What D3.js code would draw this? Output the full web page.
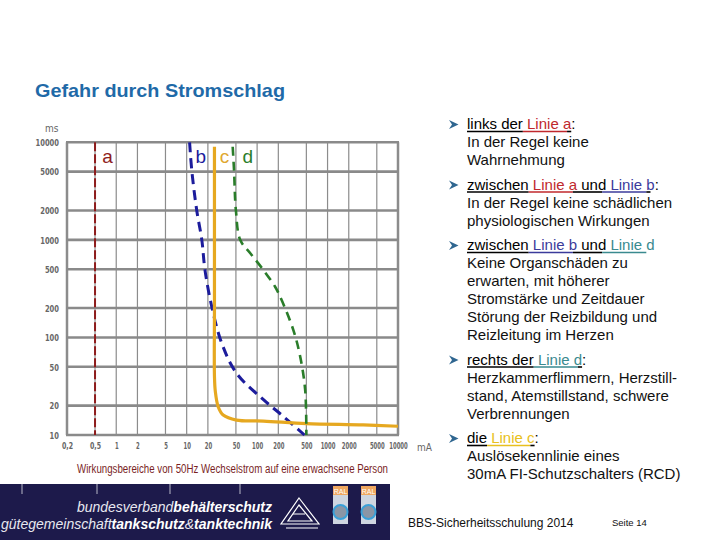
<!DOCTYPE html>
<html>
<head>
<meta charset="utf-8">
<title>Gefahr durch Stromschlag</title>
<script src="https://cdn.jsdelivr.net/npm/d3@7"></script>
<style>
  body { margin: 0; background: #fff; }
  svg { display: block; font-family: "Liberation Sans", Arial, sans-serif; }
</style>
</head>
<body>
<svg id="chart" width="720" height="540"></svg>
<script>
// ---- data ----
var xTicks = [0.2, 0.5, 1, 2, 5, 10, 20, 50, 100, 200, 500, 1000, 2000, 5000, 10000];
var xTickLabels = ["0,2", "0,5", "1", "2", "5", "10", "20", "50", "100", "200", "500", "1000", "2000", "5000", "10000"];
var yTicks = [10, 20, 50, 100, 200, 500, 1000, 2000, 5000, 10000];

// [mA, ms]
var lineA = [[0.5, 10000], [0.5, 10]];
var lineB = [[11, 10000], [11.8, 5200], [13.9, 2000], [16.4, 1000], [18.2, 490], [22.7, 207],
             [31.5, 87], [51, 43], [123, 23], [236, 15.5], [470, 10]];
var lineC = [[24.8, 9000], [24.8, 2000], [24.8, 200], [24.8, 40], [25.5, 28], [28, 19.5], [33, 16],
             [51, 14.2], [123, 13.9], [500, 13.1], [3200, 12.7], [10000, 12.3]];
var lineD = [[45, 9000], [47, 5200], [50, 2000], [57.5, 1000], [80, 730], [123, 490], [180, 331],
             [212, 262], [327, 119], [408, 64], [481, 29], [500, 10]];

var lineLabels = ["a", "b", "c", "d"];
var lineLabelX = [0.52, 11, 24.3, 51];

var bullets = [
  [["links der ", "k"], ["Linie a", "a"], [":", "k"]],
  [["zwischen ", "k"], ["Linie a", "a"], [" und ", "k"], ["Linie b", "b"], [":", "k"]],
  [["zwischen ", "k"], ["Linie b", "b"], [" und ", "k"], ["Linie d", "d"]],
  [["rechts der ", "k"], ["Linie d", "d"], [":", "k"]],
  [["die ", "k"], ["Linie c", "c"], [":", "k"]]
];
var bulletLines = [
  ["In der Regel keine", "Wahrnehmung"],
  ["In der Regel keine schädlichen", "physiologischen Wirkungen"],
  ["Keine Organschäden zu", "erwarten, mit höherer", "Stromstärke und Zeitdauer", "Störung der Reizbildung und", "Reizleitung im Herzen"],
  ["Herzkammerflimmern, Herzstill-", "stand, Atemstillstand, schwere", "Verbrennungen"],
  ["Auslösekennlinie eines", "30mA FI-Schutzschalters (RCD)"]
];

var lineColor = { a: "#8e1c1c", b: "#1c1c9c", c: "#e6a820", d: "#2a7d2a", k: "#000" };
var textColor = { a: "#c0282d", b: "#3b3b9b", c: "#e8c020", d: "#3a8a8f", k: "#000" };

var svg = d3.select("#chart");

// title
svg.append("text").attr("x", 35).attr("y", 97)
  .attr("font-size", 19).attr("font-weight", "bold").attr("fill", "#1f6aa8")
  .attr("textLength", 250).attr("lengthAdjust", "spacingAndGlyphs")
  .text("Gefahr durch Stromschlag");

// ---- chart ----
var x = d3.scaleLog().domain([0.2, 10000]).range([67, 398]);
var y = d3.scaleLog().domain([10, 10000]).range([435, 142.3]);

var grid = svg.append("g");
grid.selectAll(".vl").data(xTicks).enter().append("line")
  .attr("x1", function(d) { return x(d); }).attr("x2", function(d) { return x(d); })
  .attr("y1", y(10000)).attr("y2", y(10))
  .attr("stroke", "#8c8c8c")
  .attr("stroke-width", function(d, i) { return (i == 0 || i == xTicks.length - 1) ? 2.5 : 1.2; });
grid.selectAll(".hl").data(yTicks).enter().append("line")
  .attr("x1", x(0.2) - 1).attr("x2", x(10000) + 1)
  .attr("y1", function(d) { return y(d); }).attr("y2", function(d) { return y(d); })
  .attr("stroke", "#8a8a8a").attr("stroke-width", 2.6);

// axes
var xAxis = d3.axisBottom(x).tickValues(xTicks)
  .tickFormat(function(d, i) { return xTickLabels[i]; }).tickSize(0).tickPadding(8);
var gx = svg.append("g").attr("transform", "translate(0," + y(10) + ")").call(xAxis);
var yAxis = d3.axisLeft(y).tickValues(yTicks).tickFormat(d3.format("d")).tickSize(0).tickPadding(8);
var gy = svg.append("g").attr("transform", "translate(" + x(0.2) + ",0)").call(yAxis);
[gx, gy].forEach(function(g, gi) {
  var cw = gi == 0 ? 3.7 : 4.7;
  g.select(".domain").remove();
  g.selectAll("text").attr("font-family", "'DejaVu Sans Condensed', 'Liberation Sans Narrow', sans-serif")
    .attr("font-size", gi == 0 ? 9 : 9.5).attr("font-weight", "bold").attr("fill", "#666")
    .attr("textLength", function() { return this.textContent.length * cw; })
    .attr("lengthAdjust", "spacingAndGlyphs");
});
gy.selectAll("text").attr("dy", "0.35em");

svg.append("text").attr("x", 417).attr("y", 451).attr("font-size", 10).attr("fill", "#666")
  .attr("font-family", "'DejaVu Sans Condensed', sans-serif").text("mA");
svg.append("text").attr("x", 45).attr("y", 132).attr("font-size", 10).attr("fill", "#666")
  .attr("font-family", "'DejaVu Sans Condensed', sans-serif").text("ms");
svg.append("text").attr("x", 77).attr("y", 472.5).attr("font-size", 12).attr("fill", "#7a1f1f")
  .attr("textLength", 311).attr("lengthAdjust", "spacingAndGlyphs")
  .text("Wirkungsbereiche von 50Hz Wechselstrom auf eine erwachsene Person");

// curves
var line = d3.line().x(function(d) { return x(d[0]); }).y(function(d) { return y(d[1]); })
  .curve(d3.curveCatmullRom.alpha(0.5));
var curves = [
  { data: lineA, c: lineColor.a, w: 2, dash: "9,3" },
  { data: lineB, c: lineColor.b, w: 3, dash: "10,6" },
  { data: lineC, c: lineColor.c, w: 3.2, dash: null },
  { data: lineD, c: lineColor.d, w: 2.6, dash: "9,6" }
];
curves.forEach(function(cv) {
  svg.append("path").datum(cv.data).attr("d", line)
    .attr("fill", "none").attr("stroke", cv.c).attr("stroke-width", cv.w)
    .attr("stroke-dasharray", cv.dash);
});
svg.selectAll(".lbl").data(lineLabels).enter().append("text")
  .attr("x", function(d, i) { return x(lineLabelX[i]) + 6; })
  .attr("y", 163).attr("font-size", 19)
  .attr("fill", function(d) { return d == "c" ? "#e0a830" : lineColor[d]; })
  .text(function(d) { return d; });

// ---- bullet text ----
var tx = 467, ty = 129, lh = 18, gap = 23.5;
var tg = svg.append("g").attr("font-size", 15).attr("fill", "#111");
bullets.forEach(function(head, bi) {
  // arrow bullet
  tg.append("path")
    .attr("d", "M449," + (ty - 9) + " L458.5," + (ty - 4.5) + " L449," + ty + " L452," + (ty - 4.5) + " Z")
    .attr("fill", "#2f6690");
  var t = tg.append("text").attr("x", tx).attr("y", ty);
  var cx = tx;
  head.forEach(function(seg) {
    var s = t.append("tspan").attr("fill", textColor[seg[1]]).text(seg[0]);
    var w = s.node().getComputedTextLength();
    tg.append("line").attr("x1", cx).attr("x2", cx + w).attr("y1", ty + 2.5).attr("y2", ty + 2.5)
      .attr("stroke", seg[1] == "k" ? "#000" : textColor[seg[1]]).attr("stroke-width", 1.6);
    cx += w;
  });
  bulletLines[bi].forEach(function(l) {
    ty += lh;
    tg.append("text").attr("x", tx).attr("y", ty).text(l);
  });
  ty += gap + 1;
});

// ---- footer ----
var ft = svg.append("g");
ft.append("rect").attr("x", 0).attr("y", 484).attr("width", 390).attr("height", 56).attr("fill", "#1d1a4b");
[22, 97, 170, 240].forEach(function(v) {
  ft.append("line").attr("x1", v).attr("x2", v).attr("y1", 484).attr("y2", 494)
    .attr("stroke", "#b8b8c8").attr("stroke-width", 1);
});
var f1 = ft.append("text").attr("x", 77).attr("y", 512)
  .attr("font-size", 14).attr("font-style", "italic").attr("fill", "#fff")
  .attr("textLength", 195).attr("lengthAdjust", "spacingAndGlyphs");
f1.append("tspan").attr("fill", "#e8e8f0").text("bundesverband");
f1.append("tspan").attr("font-weight", "bold").text("behälterschutz");
var f2 = ft.append("text").attr("x", 1).attr("y", 528.5)
  .attr("font-size", 14).attr("font-style", "italic").attr("fill", "#fff")
  .attr("textLength", 271).attr("lengthAdjust", "spacingAndGlyphs");
f2.append("tspan").attr("fill", "#e8e8f0").text("gütegemeinschaft");
f2.append("tspan").attr("font-weight", "bold").text("tankschutz");
f2.append("tspan").attr("fill", "#e8e8f0").text("&");
f2.append("tspan").attr("font-weight", "bold").text("tanktechnik");

// triangle logo
var lg = ft.append("g").attr("fill", "none").attr("stroke", "#fff").attr("stroke-width", 1.2);
lg.append("path").attr("d", "M299,498 L319,524 L281,524 Z");
lg.append("path").attr("d", "M299,505 L312,521 L288,521 Z");
lg.append("path").attr("d", "M293,514 L305,514 M286,528 L318,528");

// RAL badges
[333, 361].forEach(function(bx) {
  ft.append("rect").attr("x", bx).attr("y", 486).attr("width", 15).attr("height", 38).attr("fill", "#cfd6e0");
  ft.append("rect").attr("x", bx).attr("y", 486).attr("width", 15).attr("height", 9).attr("fill", "#f0a860");
  ft.append("text").attr("x", bx + 7.5).attr("y", 494).attr("text-anchor", "middle")
    .attr("font-size", 7).attr("fill", "#fff").text("RAL");
  ft.append("circle").attr("cx", bx + 7.5).attr("cy", 512).attr("r", 7)
    .attr("fill", "#8a96a6").attr("stroke", "#3aa0d8").attr("stroke-width", 2);
});

svg.append("text").attr("x", 408).attr("y", 527).attr("font-size", 12).attr("fill", "#111")
  .text("BBS-Sicherheitsschulung 2014");
svg.append("text").attr("x", 612).attr("y", 526).attr("font-size", 9.5).attr("fill", "#111")
  .text("Seite 14");
</script>
</body>
</html>
